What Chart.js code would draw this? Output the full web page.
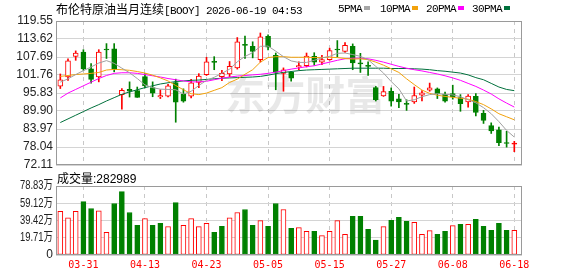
<!DOCTYPE html>
<html><head><meta charset="utf-8">
<script src="https://cdn.jsdelivr.net/npm/chart.js@4/dist/chart.umd.min.js"></script>
<style>
html,body{margin:0;padding:0;background:#fff;}
#wrap{position:relative;width:578px;height:276px;overflow:hidden;background:#fff;}
canvas{position:absolute;left:0;top:0;}
.t{position:absolute;white-space:nowrap;color:#000;line-height:12px;}
.cjk{font-family:'Noto Sans CJK SC';font-size:12px;}
.mono{font-family:'Liberation Mono';font-size:11px;letter-spacing:-0.6px;}
.sans{font-family:'Liberation Sans';font-size:12px;}
.sq{display:inline-block;width:6px;height:4px;vertical-align:middle;margin-left:2px;position:relative;top:-1px;}
</style></head><body>
<div id="wrap">
<canvas id="c1" width="578" height="276"></canvas>
<canvas id="c2" width="578" height="276"></canvas>
<div class="t" style="left:56px;top:3px;"><span class="cjk">布伦特原油当月连续</span><span class="mono">[BOOY] 2026-06-19 04:53</span></div>
<div class="t mono" style="left:338px;top:3px;">5PMA<span class="sq" style="background:#a6a6a6"></span></div>
<div class="t mono" style="left:380px;top:3px;">10PMA<span class="sq" style="background:#f2a20c"></span></div>
<div class="t mono" style="left:426px;top:3px;">20PMA<span class="sq" style="background:#ff00ff"></span></div>
<div class="t mono" style="left:472px;top:3px;">30PMA<span class="sq" style="background:#00703c"></span></div>
<div class="t" style="left:57px;top:172px;"><span class="cjk">成交量</span><span class="sans">:282989</span></div>
</div>
<script>
const dates = ['03-26','03-27','03-30','03-31','04-01','04-02','04-06','04-07','04-08','04-09','04-10','04-13','04-14','04-15','04-16','04-17','04-20','04-21','04-22','04-23','04-24','04-27','04-28','04-29','04-30','05-01','05-04','05-05','05-06','05-07','05-08','05-11','05-12','05-13','05-14','05-15','05-18','05-19','05-20','05-21','05-22','05-25','05-26','05-27','05-28','05-29','06-01','06-02','06-03','06-04','06-05','06-08','06-09','06-10','06-11','06-12','06-15','06-16','06-17','06-18'];
const openP  = [98.1,101.1,107.9,109.3,103.8,101.1,110.2,110.4,95.3,97.0,96.6,101.2,97.6,94.5,94.8,99.3,95.5,94.8,99.3,101.9,106.1,101.2,102.1,104.1,111.8,111.2,106.8,114.5,108.2,102.3,102.6,104.4,104.8,107.9,106.0,106.8,110.2,109.5,111.2,105.6,104.9,97.6,94.9,96.4,93.9,92.3,92.9,95.1,96.8,97.2,95.4,95.6,94.3,92.9,94.7,89.1,85.1,83.7,79.5,79.0];
const highP  = [102.1,107.1,109.7,110.1,105.5,110.1,112.1,112.1,97.3,99.5,97.8,102.2,99.5,96.9,98.7,100.4,97.2,100.3,102.2,107.6,107.8,103.3,106.2,114.1,114.6,112.7,115.6,115.0,109.0,104.1,103.0,106.1,109.0,109.1,108.2,110.6,113.1,112.4,112.0,108.9,106.1,98.0,98.0,97.5,95.4,93.6,97.8,96.6,99.1,97.5,96.1,98.4,95.3,95.3,95.6,90.1,86.0,84.6,83.2,79.9];
const lowP   = [97.3,100.0,106.6,103.3,99.1,99.5,107.2,102.8,90.5,94.5,94.4,97.5,94.6,94.0,94.5,86.2,92.8,94.2,97.6,101.6,103.5,99.9,101.2,103.7,107.2,107.4,106.0,110.0,96.9,96.4,99.7,103.4,104.4,105.0,105.2,106.6,107.7,109.2,103.5,102.6,101.6,93.2,94.7,91.5,91.0,90.1,92.4,93.2,96.4,94.0,92.8,93.8,89.8,91.2,88.3,85.8,82.5,78.5,78.0,76.5];
const closeP = [100.2,106.4,109.0,103.8,100.3,109.3,110.0,103.8,96.7,96.4,94.4,98.2,95.8,95.0,98.2,92.8,93.1,99.2,101.4,106.1,105.9,102.3,104.6,112.7,111.5,109.5,114.3,110.9,102.6,103.5,100.7,104.9,108.0,106.0,106.8,109.8,110.0,111.5,105.7,105.4,104.6,93.6,96.3,93.1,92.9,92.1,95.0,95.9,97.5,95.6,93.1,94.6,92.3,94.8,89.4,86.8,83.3,79.5,79.2,79.2];
const ma5  = [99.4,100.5,101.9,103.2,104.4,105.7,106.5,105.6,104.0,102.5,100.6,98.5,97.6,97.1,97.0,96.9,95.5,96.4,98.3,100.0,101.0,102.3,103.7,106.1,107.9,109.1,111.2,111.3,109.6,107.8,106.4,105.9,105.9,106.6,107.4,107.9,108.9,109.0,108.5,107.9,106.8,104.6,102.4,99.6,97.2,93.2,93.6,94.6,95.3,95.6,95.4,95.2,94.6,93.6,92.6,91.0,89.0,86.4,83.5,81.3];
const ma10 = [101.3,101.6,101.9,102.1,102.3,102.6,103.4,103.6,103.5,103.3,102.9,102.4,101.7,100.8,99.8,98.3,96.9,95.6,95.3,95.8,96.7,97.6,99.3,100.4,102.0,103.5,106.0,107.5,107.8,107.8,107.6,107.6,107.6,107.5,107.5,107.6,107.5,107.2,107.0,107.1,106.8,106.0,105.0,103.8,102.6,100.5,98.6,96.8,95.7,95.1,94.7,94.4,94.1,93.8,93.0,92.0,90.6,89.0,88.0,87.0];
const ma20 = [94.2,95.8,97.0,98.2,99.4,100.6,101.6,102.3,102.5,102.5,102.3,101.9,101.5,101.1,100.6,100.2,99.8,99.5,99.5,99.7,100.2,100.7,101.1,101.4,101.6,101.8,102.0,102.3,102.7,103.2,103.7,104.1,104.5,104.8,105.4,106.0,106.6,107.1,107.3,107.3,107.1,106.6,106.0,105.3,104.6,104.0,103.5,103.1,102.6,102.1,101.5,100.8,100.0,99.0,98.0,96.8,95.5,93.9,92.5,91.2];
const ma30 = [86.1,87.3,88.5,89.7,90.9,92.0,93.2,94.3,95.4,96.2,96.9,97.6,98.2,98.8,99.2,99.6,99.8,100.0,100.1,100.3,100.5,100.7,100.8,100.9,101.0,101.1,101.3,101.7,102.2,102.6,102.9,103.2,103.4,103.5,103.6,103.7,103.8,103.9,104.0,104.0,104.0,104.0,104.0,103.9,103.9,103.9,103.8,103.7,103.5,103.2,103.0,102.7,102.4,101.8,100.9,100.2,99.0,97.8,97.0,96.6];
const volume = [497500,426000,497500,610500,531000,505000,260000,588000,724000,486000,339000,415000,339000,362000,324000,599000,339000,415000,324000,362000,260000,328000,426000,486000,520000,339000,392000,328000,588000,520000,305000,313000,271000,271000,222000,271000,392000,237000,441000,441000,294000,170000,324000,396000,430000,384000,373000,237000,279000,237000,271000,335000,350000,350000,407000,328000,283000,362000,283000,282989];
const volUp = [1,1,1,0,0,1,1,0,0,0,0,1,0,0,1,0,1,1,1,1,0,0,1,1,0,0,1,0,0,1,0,1,1,0,1,1,1,1,0,0,0,0,1,0,0,0,1,1,1,0,0,1,0,1,0,0,0,0,0,1];
const priceTickLabels = ['72.11','78.04','83.97','89.90','95.83','101.76','107.69','113.62','119.55'];
const volTickLabels = ['0','19.71万','39.42万','59.12万','78.83万'];
const dateTickLabels = ['03-31','04-13','04-23','05-05','05-15','05-27','06-08','06-18'];

const RED='#ff0000', GREEN='#008000';
const idx = dates.map((d,i)=>i);
const dateTickIdx = dateTickLabels.map(l=>dates.indexOf(l));
const isUp = idx.map(i=>closeP[i]>=openP[i]);
const isDoji = idx.map(i=>Math.abs(closeP[i]-openP[i])<0.25);
const edge = idx.map(i=>isUp[i]?RED:GREEN);
const bodyFill = idx.map(i=>(isUp[i]&&!isDoji[i])?'#ffffff':edge[i]);

const frame = {id:'frame', afterDraw(c){const a=c.chartArea,ctx=c.ctx;ctx.save();ctx.strokeStyle='#9a9a9a';ctx.lineWidth=1;
 ctx.strokeRect(Math.round(a.left)+0.5,Math.round(a.top)+0.5,Math.round(a.right)-Math.round(a.left)-1,Math.round(a.bottom)-Math.round(a.top)-1);ctx.restore();}};
const watermark = {id:'wm', beforeDatasetsDraw(c){const a=c.chartArea,ctx=c.ctx;ctx.save();ctx.fillStyle='rgba(0,0,0,0.09)';
 ctx.font="bold 40px 'Noto Sans CJK SC'";ctx.textAlign='center';ctx.textBaseline='middle';
 ctx.fillText('东方财富',a.left+a.width*0.535,a.top+a.height*0.515);ctx.restore();}};

function xAxis(show){
 return {type:'linear',min:-0.56,max:60,offset:false,
  afterBuildTicks:s=>{s.ticks=dateTickIdx.map(v=>({value:v}));},
  afterFit:s=>{s.height=show?21:0;},
  grid:{color:'#c8c8c8',lineWidth:1,drawTicks:false,offset:false},
  border:{display:false,dash:[4,4]},
  ticks:{display:show,autoSkip:false,maxRotation:0,padding:4,color:RED,
   font:{family:'DejaVu Sans Mono',size:10},callback:v=>dates[v]}};
}
const base = {responsive:false,animation:false,events:[],
 plugins:{legend:{display:false},tooltip:{enabled:false}}};

new Chart(document.getElementById('c1'),{
 type:'bar',
 data:{datasets:[
  {type:'line',data:idx.map(i=>({x:i,y:ma5[i]})),borderColor:'#a0a0a0',borderWidth:1,pointRadius:0,order:0},
  {type:'line',data:idx.map(i=>({x:i,y:ma10[i]})),borderColor:'#f2a20c',borderWidth:1,pointRadius:0,order:0},
  {type:'line',data:idx.map(i=>({x:i,y:ma20[i]})),borderColor:'#ff00ff',borderWidth:1,pointRadius:0,order:0},
  {type:'line',data:idx.map(i=>({x:i,y:ma30[i]})),borderColor:'#00703c',borderWidth:1,pointRadius:0,order:0},
  {data:idx.map(i=>({x:i,y:[openP[i],closeP[i]]})),backgroundColor:bodyFill,borderColor:edge,borderWidth:1,
   borderSkipped:false,barThickness:5,minBarLength:1,grouped:false,order:1},
  {data:idx.map(i=>({x:i,y:[lowP[i],highP[i]]})),backgroundColor:edge,borderWidth:0,barThickness:1,grouped:false,order:2}
 ]},
 options:Object.assign({},base,{
  layout:{padding:{left:0,right:56,top:21,bottom:111}},
  scales:{
   x:xAxis(false),
   y:{type:'linear',min:72.11,max:119.55,
    afterBuildTicks:s=>{s.ticks=priceTickLabels.map(l=>({value:parseFloat(l)}));},
    afterFit:s=>{s.width=56;},
    grid:{color:'#d4d4d4',drawTicks:false},border:{display:false},
    ticks:{padding:3,color:'#222',font:{family:'Liberation Sans',size:12},callback:(v,i)=>priceTickLabels[i]}}
  }}),
 plugins:[frame,watermark]
});

const volLabels = {id:'vl', afterDraw(c){const s=c.scales.y,ctx=c.ctx,a=c.chartArea;ctx.save();
 ctx.font="12px 'Liberation Sans','Noto Sans CJK SC'";ctx.fillStyle='#222';ctx.textAlign='right';ctx.textBaseline='middle';
 volTickLabels.forEach(l=>{const y=s.getPixelForValue(parseFloat(l)*10000);
  if(l.length>2) ctx.fillText(l,a.left-3,y,33); else ctx.fillText(l,a.left-3,y);});
 ctx.restore();}};

new Chart(document.getElementById('c2'),{
 type:'bar',
 data:{datasets:[
  {data:idx.map(i=>({x:i,y:volume[i]})),backgroundColor:idx.map(i=>volUp[i]?'#ffffff':GREEN),
   borderColor:idx.map(i=>volUp[i]?RED:GREEN),borderWidth:1,borderSkipped:false,barThickness:5,grouped:false}
 ]},
 options:Object.assign({},base,{
  layout:{padding:{left:0,right:56,top:186,bottom:0}},
  scales:{
   x:xAxis(true),
   y:{type:'linear',min:0,max:788300,
    afterBuildTicks:s=>{s.ticks=volTickLabels.map(l=>({value:parseFloat(l)*10000}));},
    afterFit:s=>{s.width=56;},
    grid:{color:'#d4d4d4',drawTicks:false},border:{display:false},
    ticks:{display:false}}
  }}),
 plugins:[frame,volLabels]
});
</script>
</body></html>
